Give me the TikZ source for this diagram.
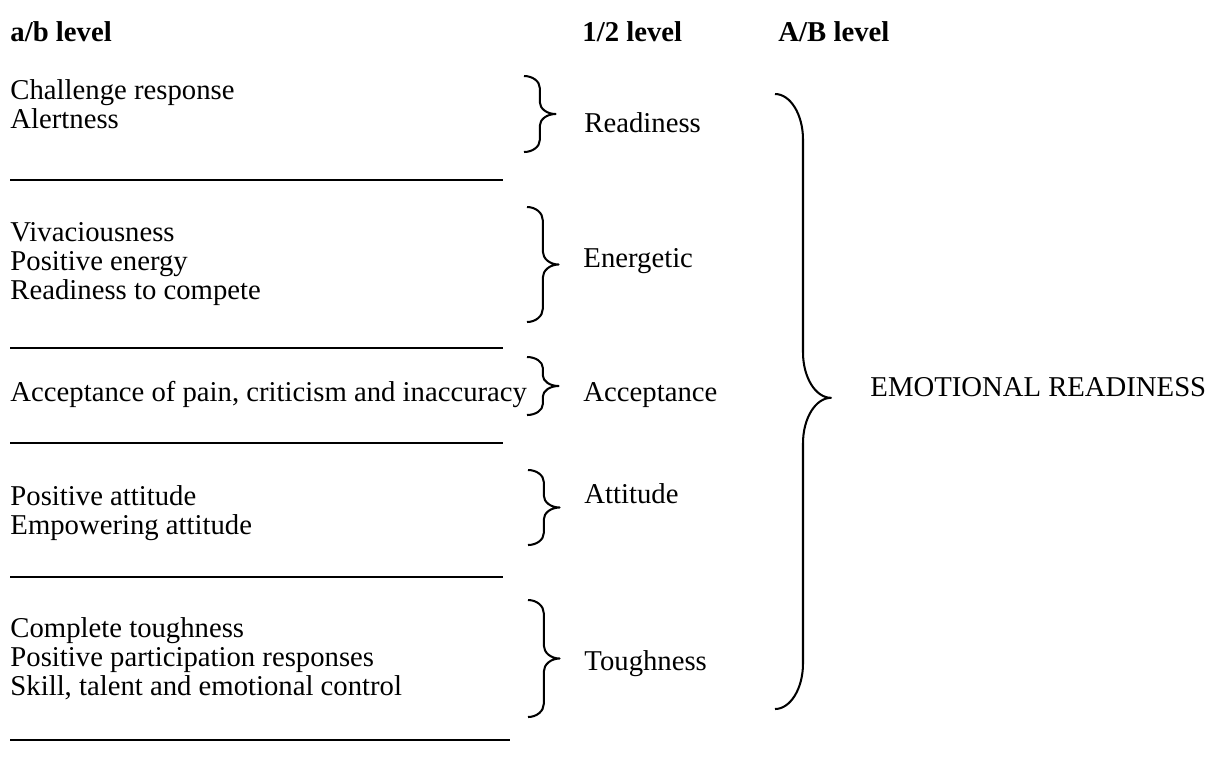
\documentclass[tikz,border=0pt]{standalone}
\usepackage{fontspec}
\setmainfont{Liberation Serif}
\usetikzlibrary{calc}
% right curly brace from #1 (top) to #2 (bottom), tip at fraction #3,
% half depth #4, corner rise #5
\newcommand\drawbrace[5]{%
  \draw[bracestyle] let \p1=(#1), \p2=(#2), \p3=($(#1)!#3!(#2)$) in
    (\x1,\y1) .. controls (\x1+0.55*#4,\y1) and (\x1+#4,\y1-0.45*#5) .. (\x1+#4,\y1-#5)
    -- (\x1+#4,\y3+#5)
    .. controls (\x1+#4,\y3+0.45*#5) and (\x1+1.45*#4,\y3) .. (\x1+2*#4,\y3)
    .. controls (\x1+1.45*#4,\y3) and (\x1+#4,\y3-0.45*#5) .. (\x1+#4,\y3-#5)
    -- (\x1+#4,\y2+#5)
    .. controls (\x1+#4,\y2+0.45*#5) and (\x1+0.55*#4,\y2) .. (\x2,\y2);}
\begin{document}
\begin{tikzpicture}[x=0.418pt,y=-0.418pt,
  txt/.style={anchor=base west,inner sep=0pt,font=\fontsize{12pt}{12.1pt}\selectfont},
  head/.style={txt,font=\fontsize{12pt}{12.1pt}\selectfont\bfseries},
  rule/.style={line width=0.65pt},
  bracestyle/.style={line width=0.85pt,line join=round}]
\useasboundingbox (0,0) rectangle (1223,776);

% column headings
\node[head] (hab) at (10,41) {a/b level};
\node[head] (h12) at (582,41) {1/2 level};
\node[head] (hAB) at (778,41) {A/B level};

% group 1
\node[txt] (a1) at (10,99) {Challenge response};
\node[txt] (a2) at (10,128) {Alertness};
\node[txt] (r1) at (584,132) {Readiness};
\coordinate (b1t) at (524,76);
\coordinate (b1b) at (524,152);
\drawbrace{b1t}{b1b}{0.5}{6.6pt}{5pt}
\coordinate (l1a) at (10,180); \coordinate (l1b) at (503,180);
\draw[rule] (l1a) -- (l1b);

% group 2
\node[txt] (e1) at (10,241) {Vivaciousness};
\node[txt] (e2) at (10,270) {Positive energy};
\node[txt] (e3) at (10,299) {Readiness to compete};
\node[txt] (r2) at (583,267) {Energetic};
\coordinate (b2t) at (527,207);
\coordinate (b2b) at (527,322);
\drawbrace{b2t}{b2b}{0.5}{6.6pt}{5.5pt}
\coordinate (l2a) at (10,348); \coordinate (l2b) at (503,348);
\draw[rule] (l2a) -- (l2b);

% group 3
\node[txt] (c1) at (10,401) {Acceptance of pain, criticism and inaccuracy};
\node[txt] (r3) at (583,401) {Acceptance};
\coordinate (b3t) at (527,357);
\coordinate (b3b) at (527,415);
\drawbrace{b3t}{b3b}{0.5}{6.6pt}{4.5pt}
\coordinate (l3a) at (10,443); \coordinate (l3b) at (503,443);
\draw[rule] (l3a) -- (l3b);

% group 4
\node[txt] (t1) at (10,505) {Positive attitude};
\node[txt] (t2) at (10,534) {Empowering attitude};
\node[txt] (r4) at (584,503) {Attitude};
\coordinate (b4t) at (528,470);
\coordinate (b4b) at (528,545);
\drawbrace{b4t}{b4b}{0.5}{6.6pt}{5pt}
\coordinate (l4a) at (10,577); \coordinate (l4b) at (503,577);
\draw[rule] (l4a) -- (l4b);

% group 5
\node[txt] (g1) at (10,637) {Complete toughness};
\node[txt] (g2) at (10,666) {Positive participation responses};
\node[txt] (g3) at (10,695) {Skill, talent and emotional control};
\node[txt] (r5) at (584,670) {Toughness};
\coordinate (b5t) at (528,600);
\coordinate (b5b) at (528,717);
\drawbrace{b5t}{b5b}{0.5}{6.6pt}{5.5pt}
\coordinate (l5a) at (10,740); \coordinate (l5b) at (510,740);
\draw[rule] (l5a) -- (l5b);

% overall grouping
\coordinate (bBt) at (775,94);
\coordinate (bBb) at (775,709);
\drawbrace{bBt}{bBb}{0.494}{11.7pt}{19pt}
\node[txt] (em) at (870,396) {EMOTIONAL READINESS};
\end{tikzpicture}
\end{document}
